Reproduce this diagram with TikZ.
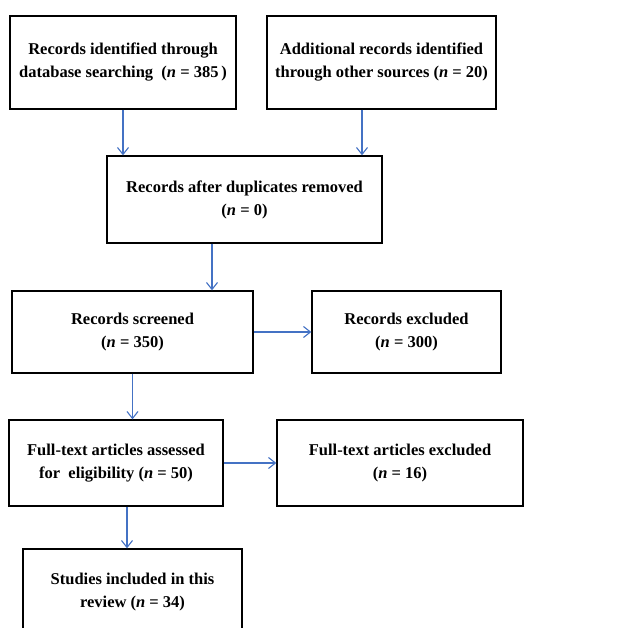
\documentclass[tikz,border=0pt]{standalone}
\usepackage{fontspec}
\setmainfont{Liberation Serif}
\usetikzlibrary{arrows.meta}
\definecolor{arrowblue}{HTML}{4472C4}
\tikzset{
  box/.style={draw=black, line width=1.3pt, inner sep=0pt, align=center,
    font=\fontsize{16.5}{23}\selectfont\bfseries},
  flow/.style={draw=arrowblue, line width=1.1pt, -{Straight Barb[length=7pt,width=11pt]}}
}
\begin{document}
\begin{tikzpicture}[x=1pt,y=-1pt]
\useasboundingbox (0,0) rectangle (621,628);
\clip (0,0) rectangle (621,628);
\node[box, minimum width=226pt, minimum height=93pt] (b1) at (123,62.5)
  {Records identified through\\database searching~ (\textit{n} = 385\,)};
\node[box, minimum width=229pt, minimum height=93pt] (b2) at (381.5,62.5)
  {Additional records identified\\through other sources (\textit{n} = 20)};
\node[box, minimum width=275pt, minimum height=87pt] (b3) at (244.5,199.5)
  {Records after duplicates removed\\(\textit{n} = 0)};
\node[box, minimum width=241pt, minimum height=82pt] (b4) at (132.5,332)
  {Records screened\\(\textit{n} = 350)};
\node[box, minimum width=189pt, minimum height=82pt] (b5) at (406.5,332)
  {Records excluded\\(\textit{n} = 300)};
\node[box, minimum width=214pt, minimum height=86pt] (b6) at (116,463)
  {Full-text articles assessed\\for~ eligibility (\textit{n} = 50)};
\node[box, minimum width=246pt, minimum height=86pt] (b7) at (400,463)
  {Full-text articles excluded\\(\textit{n} = 16)};
\node[box, minimum width=219pt, minimum height=86pt] (b8) at (132.5,592)
  {Studies included in this\\review (\textit{n} = 34)};
\draw[flow] (b1.south) -- (b1.south |- b3.north);
\draw[flow] ([xshift=-19.5pt]b2.south) -- ([xshift=-19.5pt]b2.south |- b3.north);
\draw[flow] ([xshift=-32.5pt]b3.south) -- ([xshift=-32.5pt]b3.south |- b4.north);
\draw[flow] (b4.east) -- (b5.west);
\draw[flow] (b4.south) -- (b4.south |- b6.north);
\draw[flow] (b6.east) -- (b7.west);
\draw[flow] ([xshift=11pt]b6.south) -- ([xshift=11pt]b6.south |- b8.north);
\end{tikzpicture}
\end{document}
